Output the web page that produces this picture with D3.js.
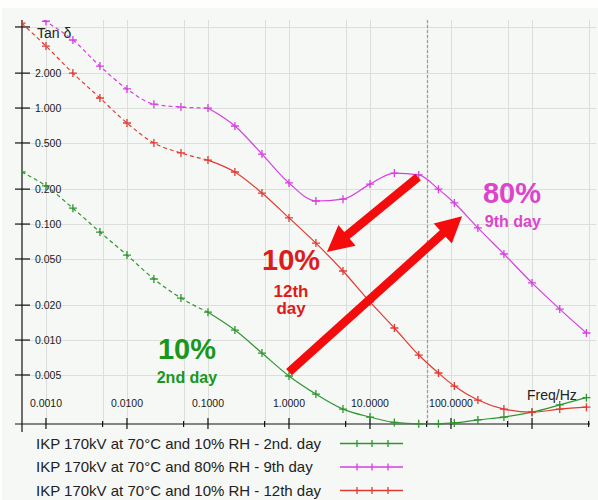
<!DOCTYPE html>
<html>
<head>
<meta charset="utf-8">
<script src="https://cdn.jsdelivr.net/npm/d3@7"></script>
<style>
  html, body { margin: 0; padding: 0; background: #ffffff; }
  svg { display: block; font-family: "Liberation Sans", Arial, sans-serif; }
</style>
</head>
<body>
<svg id="chart" width="598" height="500"></svg>
<script>
// ---- data ----
const freqs = [0.0005, 0.001, 0.00215, 0.00464, 0.01, 0.0215, 0.0464, 0.1, 0.215, 0.464, 1, 2.15, 4.64,
               10, 20, 40, 70, 110, 215, 450, 1000, 2200, 4700];
const green2nd = [0.281, 0.213, 0.137, 0.0853, 0.054, 0.0336, 0.023, 0.0174, 0.0122, 0.00773, 0.0049, 0.00342, 0.00254,
                  0.00217, 0.00195, 0.0019, 0.0019, 0.00193, 0.00205, 0.00217, 0.00239, 0.00276, 0.00319];
const pink9th = [8.0, 5.6, 3.86, 2.30, 1.46, 1.08, 1.02, 1.0, 0.70, 0.401, 0.226, 0.158, 0.164,
                 0.221, 0.275, 0.265, 0.2, 0.152, 0.0926, 0.0552, 0.0311, 0.0185, 0.0115];
const red12th = [5.4, 3.42, 2.0, 1.22, 0.743, 0.5, 0.41, 0.356, 0.281, 0.185, 0.113, 0.0685, 0.0394,
                 0.0213, 0.0127, 0.00743, 0.0052, 0.00401, 0.00304, 0.00254, 0.00239, 0.00254, 0.00264];
const seriesNames = ["IKP 170kV at 70°C and 10% RH - 2nd. day",
                     "IKP 170kV at 70°C and 80% RH - 9th day",
                     "IKP 170kV at 70°C and 10% RH - 12th day"];
const seriesColors = ["#2f962f", "#d63fe0", "#e23a32"];
const yTicks = [5, 2, 1, 0.5, 0.2, 0.1, 0.05, 0.02, 0.01, 0.005];
const yTickLabels = ["", "2.000", "1.000", "0.500", "0.200", "0.100", "0.050", "0.020", "0.010", "0.005"];
const xMajor = [0.001, 0.01, 0.1, 1, 10, 100, 1000];
const xMajorLabels = ["0.0010", "0.0100", "0.1000", "1.0000", "10.0000", "100.0000", ""];
const xMinor = [0.005, 0.05, 0.5, 5, 50, 500, 5000];
const mainsFreq = 50;
const dashedUpTo = 0.1;

const series = [green2nd, pink9th, red12th];

// ---- layout ----
const svg = d3.select("#chart");
const L = 22, R = 590, T = 20, B = 424;
const x = d3.scaleLog().domain([0.000506, 5200]).range([L, R]);
const y = d3.scaleLog().domain([0.00189, 5.74]).range([B, T]);

// panel background
svg.append("rect").attr("x", 2).attr("y", 8).attr("width", 596).attr("height", 492).attr("fill", "#f6f8f6");

// grid
const grid = svg.append("g").attr("stroke", "#dcdedc").attr("stroke-width", 1);
xMajor.concat(xMinor).forEach(v => {
  grid.append("line").attr("x1", Math.round(x(v)) + 0.5).attr("x2", Math.round(x(v)) + 0.5)
    .attr("y1", T).attr("y2", B);
});
yTicks.forEach(v => {
  grid.append("line").attr("x1", L).attr("x2", 596)
    .attr("y1", Math.round(y(v)) + 0.5).attr("y2", Math.round(y(v)) + 0.5);
});

// 50 Hz marker line
svg.append("line").attr("x1", Math.round(x(mainsFreq)) + 0.5).attr("x2", Math.round(x(mainsFreq)) + 0.5)
  .attr("y1", T).attr("y2", B).attr("stroke", "#9aa0a0").attr("stroke-width", 1.3)
  .attr("stroke-dasharray", "3,2");

// clip
svg.append("clipPath").attr("id", "plotclip").append("rect")
  .attr("x", L).attr("y", T).attr("width", 598 - L).attr("height", B - T + 6);

// axes
const axisG = svg.append("g").attr("stroke", "#111").attr("stroke-width", 1.2);
axisG.append("line").attr("x1", L).attr("x2", L).attr("y1", T).attr("y2", 432);
axisG.append("line").attr("x1", 15).attr("x2", R).attr("y1", B).attr("y2", B);
yTicks.forEach(v => {
  axisG.append("line").attr("x1", 15).attr("x2", 30).attr("y1", y(v)).attr("y2", y(v));
});
xMajor.forEach(v => {
  axisG.append("line").attr("x1", x(v)).attr("x2", x(v)).attr("y1", B - 6).attr("y2", B + 5);
});
xMinor.forEach(v => {
  axisG.append("line").attr("x1", x(v)).attr("x2", x(v)).attr("y1", B - 3).attr("y2", B + 3);
});

// tick labels
const tl = svg.append("g").attr("fill", "#1a1a1a").attr("font-size", 10.5);
yTicks.forEach((v, i) => {
  tl.append("text").attr("x", 35).attr("y", y(v)).attr("dy", "0.35em").text(yTickLabels[i]);
});
xMajor.forEach((v, i) => {
  tl.append("text").attr("x", x(v)).attr("y", 407).attr("text-anchor", "middle").text(xMajorLabels[i]);
});
svg.append("text").attr("x", 37).attr("y", 38).attr("font-size", 14).attr("fill", "#222").text("Tan δ");
svg.append("text").attr("x", 527).attr("y", 400).attr("font-size", 14).attr("fill", "#222").text("Freq/Hz");

// series
const plot = svg.append("g").attr("clip-path", "url(#plotclip)");
const line = d3.line().x(d => x(d[0])).y(d => y(d[1])).curve(d3.curveMonotoneX);
series.forEach((vals, si) => {
  const pts = freqs.map((f, i) => [f, vals[i]]);
  const dashPts = pts.filter(p => p[0] <= dashedUpTo);
  const solidPts = pts.filter(p => p[0] >= dashedUpTo);
  plot.append("path").attr("d", line(dashPts)).attr("fill", "none")
    .attr("stroke", seriesColors[si]).attr("stroke-width", 1.2).attr("stroke-dasharray", "4,3");
  plot.append("path").attr("d", line(solidPts)).attr("fill", "none")
    .attr("stroke", seriesColors[si]).attr("stroke-width", 1.2);
  pts.forEach(p => {
    const cx = x(p[0]), cy = y(p[1]);
    plot.append("path").attr("d", `M${cx - 4},${cy}H${cx + 4}M${cx},${cy - 4}V${cy + 4}`)
      .attr("stroke", seriesColors[si]).attr("stroke-width", 1.3);
  });
});

// annotations
function arrow(f0, v0, f1, v1) {
  const x0 = x(f0), y0 = y(v0), x1 = x(f1), y1 = y(v1);
  const dx = x1 - x0, dy = y1 - y0, len = Math.hypot(dx, dy);
  const ux = dx / len, uy = dy / len, nx = -uy, ny = ux;
  const hl = 26, hw = 13.5, sw = 4.3;
  const bx = x1 - ux * hl, by = y1 - uy * hl;
  const pts = [
    [x0 + nx * sw, y0 + ny * sw], [bx + nx * sw, by + ny * sw], [bx + nx * hw, by + ny * hw],
    [x1, y1], [bx - nx * hw, by - ny * hw], [bx - nx * sw, by - ny * sw], [x0 - nx * sw, y0 - ny * sw]
  ];
  svg.append("polygon").attr("points", pts.map(p => p.join(",")).join(" ")).attr("fill", "#f40c0c");
}
arrow(39.2, 0.254, 2.94, 0.0575);
arrow(1.0, 0.00529, 137, 0.117);

function label(f, v, text, size, color) {
  svg.append("text").attr("x", x(f)).attr("y", y(v)).attr("text-anchor", "middle")
    .attr("font-size", size).attr("font-weight", "bold").attr("fill", color).text(text);
}
label(0.055, 0.00683, "10%", 29, "#1a961a");
label(0.055, 0.00426, "2nd day", 16, "#1a961a");
label(1.06, 0.0401, "10%", 29, "#dd1c1c");
label(1.06, 0.0235, "12th", 17, "#dd1c1c");
label(1.06, 0.01675, "day", 17, "#dd1c1c");
label(566, 0.152, "80%", 29, "#dd44cc");
label(580, 0.094, "9th day", 16, "#dd44cc");

// legend
const lg = svg.append("g");
seriesNames.forEach((n, i) => {
  const yy = 448.5 + i * 23.5;
  lg.append("text").attr("x", 36).attr("y", yy).attr("font-size", 15).attr("fill", "#222").text(n);
  const ly = yy - 5;
  lg.append("line").attr("x1", 340).attr("x2", 403).attr("y1", ly).attr("y2", ly)
    .attr("stroke", seriesColors[i]).attr("stroke-width", 1.3);
  [357, 372, 388].forEach(tx => {
    lg.append("line").attr("x1", tx).attr("x2", tx).attr("y1", ly - 3.5).attr("y2", ly + 3.5)
      .attr("stroke", seriesColors[i]).attr("stroke-width", 1.3);
  });
});
</script>
</body>
</html>
